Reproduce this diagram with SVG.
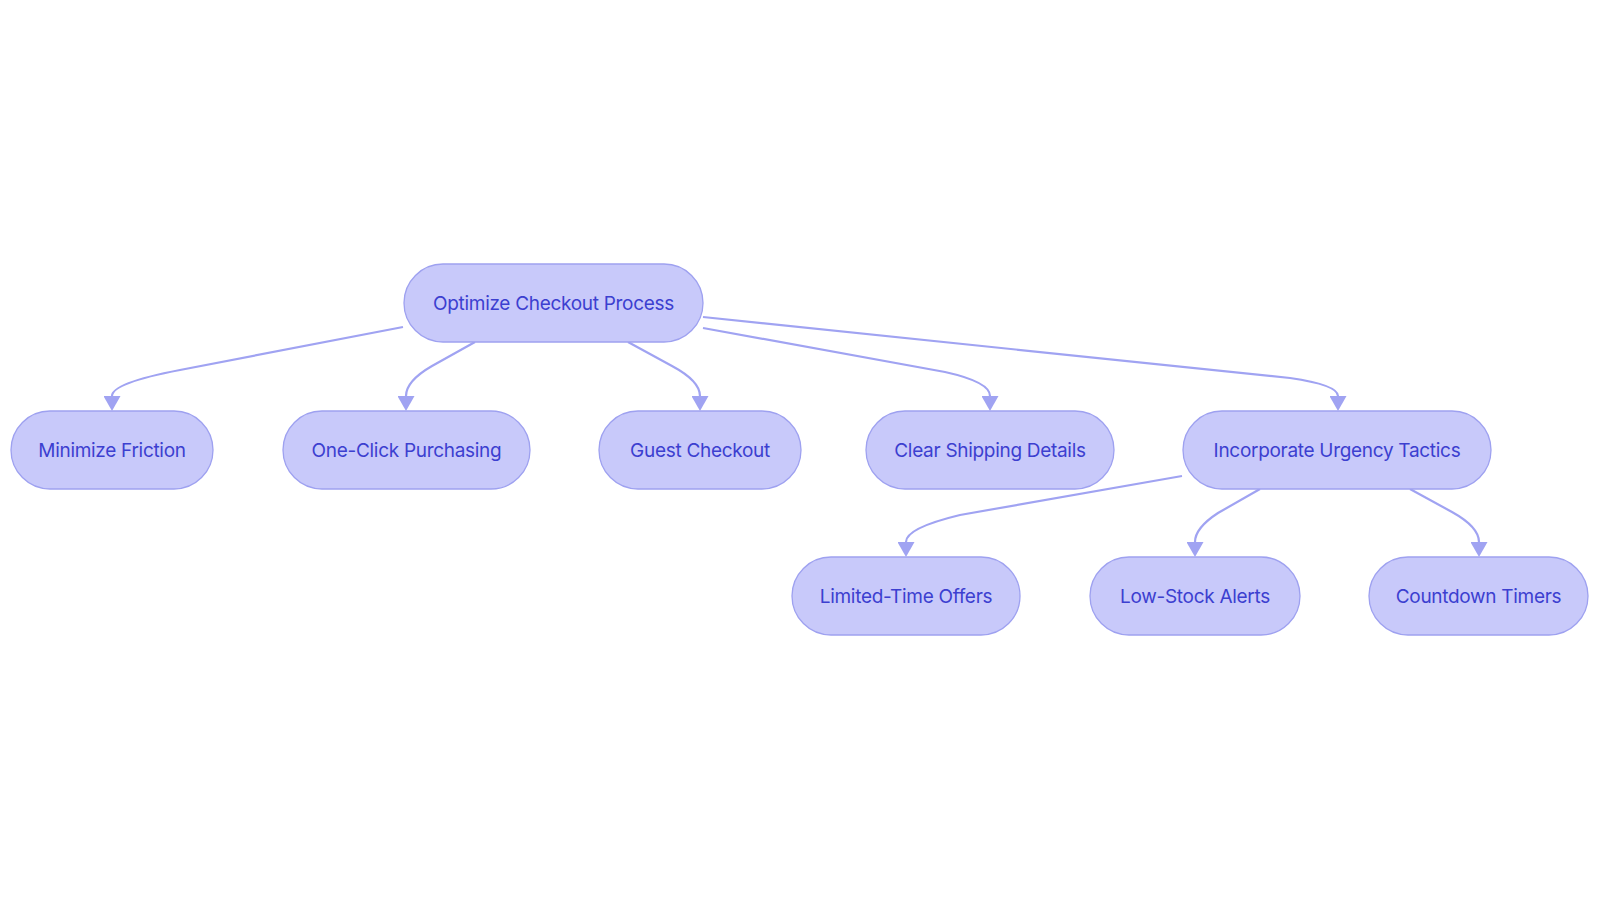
<svg xmlns="http://www.w3.org/2000/svg" width="1600" height="903" viewBox="0 0 1600 903">
<style>
.node rect{fill:#c8c9fa;stroke:#9ea1f0;stroke-width:1.3}
.node text{font-family:Inter,"Noto Sans",sans-serif;font-size:19px;fill:#3c3fd0;text-anchor:middle;dominant-baseline:central;letter-spacing:-0.3px}
.edge{fill:none;stroke:#a0a3f2;stroke-width:2.2}
</style>
<defs>
<marker id="arr" markerUnits="userSpaceOnUse" markerWidth="15" markerHeight="17" refX="0" refY="8.5" orient="auto" viewBox="0 0 15 17">
<path d="M0,0 L15,8.5 L0,17 Z" fill="#a0a3f2"/>
</marker>
</defs>
<rect width="1600" height="903" fill="#ffffff"/>
<g id="connectors">
<path class="edge" marker-end="url(#arr)" d="M403,327 L180,370 Q112,383 112,396"/>
<path class="edge" marker-end="url(#arr)" d="M475,342 L432,366 Q406,381 406,396"/>
<path class="edge" marker-end="url(#arr)" d="M628,342 L672,366 Q700,381 700,396"/>
<path class="edge" marker-end="url(#arr)" d="M703,328 L945,372 Q990,382 990,396"/>
<path class="edge" marker-end="url(#arr)" d="M703,317 L1290,378 Q1338,385 1338,396"/>
<path class="edge" marker-end="url(#arr)" d="M1182,476 L960,515 Q906,528 906,542"/>
<path class="edge" marker-end="url(#arr)" d="M1260,489 L1218,513 Q1195,528 1195,542"/>
<path class="edge" marker-end="url(#arr)" d="M1410,489 L1452,512 Q1479,527 1479,542"/>
</g>
<g id="n-optimize" class="node"><rect x="404" y="264" width="299" height="78" rx="39"/><text x="553.5" y="303">Optimize Checkout Process</text></g>
<g id="n-minimize" class="node"><rect x="11" y="411" width="202" height="78" rx="39"/><text x="112" y="450">Minimize Friction</text></g>
<g id="n-oneclick" class="node"><rect x="283" y="411" width="247" height="78" rx="39"/><text x="406.5" y="450">One-Click Purchasing</text></g>
<g id="n-guest" class="node"><rect x="599" y="411" width="202" height="78" rx="39"/><text x="700" y="450">Guest Checkout</text></g>
<g id="n-shipping" class="node"><rect x="866" y="411" width="248" height="78" rx="39"/><text x="990" y="450">Clear Shipping Details</text></g>
<g id="n-urgency" class="node"><rect x="1183" y="411" width="308" height="78" rx="39"/><text x="1337" y="450">Incorporate Urgency Tactics</text></g>
<g id="n-limited" class="node"><rect x="792" y="557" width="228" height="78" rx="39"/><text x="906" y="596">Limited-Time Offers</text></g>
<g id="n-lowstock" class="node"><rect x="1090" y="557" width="210" height="78" rx="39"/><text x="1195" y="596">Low-Stock Alerts</text></g>
<g id="n-countdown" class="node"><rect x="1369" y="557" width="219" height="78" rx="39"/><text x="1478.5" y="596">Countdown Timers</text></g>
</svg>
